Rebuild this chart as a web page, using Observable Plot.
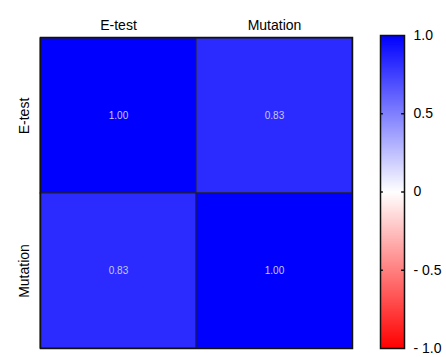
<!DOCTYPE html>
<html><head><meta charset="utf-8">
<script src="https://cdn.jsdelivr.net/npm/d3@7"></script>
<script src="https://cdn.jsdelivr.net/npm/@observablehq/plot@0.6"></script>
<style>
body{margin:0;background:#fff;font-family:"Liberation Sans",Arial,sans-serif;}
#wrap{display:flex;width:446px;height:357px;}
</style></head><body><div id="wrap"></div>
<script>
const variables = ["E-test", "Mutation"];
const corr = [[1.00, 0.83], [0.83, 1.00]];
const barTicks = [-1, -0.5, 0, 0.5, 1];
const barTickLabels = ["- 1.0", "- 0.5", "0", "0.5", "1.0"];

const cells = [];
variables.forEach((r, i) => variables.forEach((c, j) => cells.push({row: r, col: c, v: corr[i][j]})));

const colorOpt = {type: "linear", domain: [-1, 0, 1], range: ["#ff0000", "#ffffff", "#0000ff"]};

const main = Plot.plot({
  width: 370, height: 357,
  marginLeft: 40, marginRight: 18, marginTop: 37, marginBottom: 9,
  style: {fontFamily: "Liberation Sans, Arial, sans-serif", fontSize: "14px", color: "#000"},
  x: {domain: variables, axis: "top", label: null, tickSize: 0, tickPadding: 8, padding: 0},
  y: {domain: variables, label: null, tickSize: 0, tickPadding: 12, tickRotate: -90, padding: 0},
  color: colorOpt,
  marks: [
    Plot.cell(cells, {x: "col", y: "row", fill: "v", stroke: "#222", strokeWidth: 1}),
    Plot.text(cells, {x: "col", y: "row", text: d => d.v.toFixed(2), fill: "#c8c8f4", fontSize: 10}),
    Plot.frame({stroke: "#111", strokeWidth: 1.5})
  ]
});

const bar = Plot.plot({
  width: 76, height: 357,
  marginLeft: 10, marginRight: 42, marginTop: 35, marginBottom: 9,
  style: {fontFamily: "Liberation Sans, Arial, sans-serif", fontSize: "14px", color: "#000"},
  x: {domain: [0, 1], axis: null},
  y: {domain: [-1, 1], axis: "right", ticks: barTicks, tickFormat: d => barTickLabels[barTicks.indexOf(d)], tickSize: 0, tickPadding: 9, label: null},
  color: colorOpt,
  marks: [
    Plot.raster({fill: (x, y) => y, x1: 0, x2: 1, y1: -1, y2: 1, pixelSize: 1}),
    Plot.ruleY([-0.5, 0, 0.5], {x1: 0, x2: 0.12, stroke: "#111", strokeWidth: 1.5}),
    Plot.ruleY([-0.5, 0, 0.5], {x1: 0.88, x2: 1, stroke: "#111", strokeWidth: 1.5}),
    Plot.frame({stroke: "#111", strokeWidth: 1.5})
  ]
});

document.getElementById("wrap").append(main, bar);
</script></body></html>
